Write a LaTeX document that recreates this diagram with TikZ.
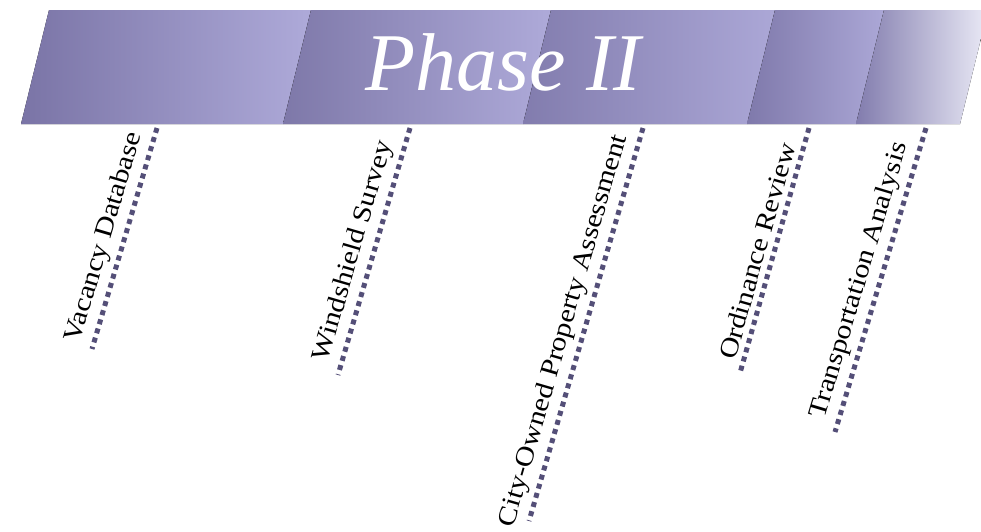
\documentclass[tikz,border=0pt]{standalone}
\usepackage{fontspec}
\usepackage{tkz-euclide}
\setmainfont{Liberation Serif}
\newfontfamily\taskfont{Liberation Serif}[FakeStretch=1.15]
\definecolor{bandL}{RGB}{122,116,166}
\definecolor{bandR}{RGB}{174,170,217}
\definecolor{bandM}{RGB}{161,156,212}
\definecolor{bandEnd}{RGB}{234,234,246}
\definecolor{dotPurple}{RGB}{84,79,120}
\tikzset{
  band/.style={left color=bandL, right color=bandR},
  taskline/.style={line width=5pt, color=dotPurple, dash pattern=on 5pt off 4.5pt},
  tasklbl/.style={sloped, above=4pt, pos=.48, font=\taskfont\fontsize{26}{28}\selectfont}
}
\begin{document}
\begin{tikzpicture}[x=1pt,y=-1pt]
\useasboundingbox (0,0) rectangle (981,531);
\tkzDefPoints{49/10/A, 311/10/B, 551/10/C, 775/10/D, 884/10/E, 988/10/F}
\tkzDefPoints{21/124/a, 283/124/b, 523/124/c, 747/124/d, 856/124/e, 960/124/f}
\tkzFillPolygon[band](A,B,b,a)
\tkzFillPolygon[left color=bandL!97!white, right color=bandR](B,C,c,b)
\tkzFillPolygon[left color=bandL!85!bandR, right color=bandR!95!bandL](C,D,d,c)
\tkzFillPolygon[left color=bandL!90!bandR, right color=bandR!95!bandL](D,E,e,d)
\tkzFillPolygon[left color=bandL!85!bandR, middle color=bandM, right color=bandEnd](E,F,f,e)
\node[anchor=base, text=white, font=\itshape\fontsize{82}{90}\selectfont] (phase) at (503,90) {Phase II};
% task lines
\tkzDefPoints{157/128/T1, 410/128/T2, 643/128/T3, 809/128/T4, 926/128/T5}
\tkzDefPoints{92/349/B1, 338/375/B2, 529/521/B3, 740/373/B4, 835/432/B5}
\foreach \i in {1,...,5}
  \draw[taskline] (T\i) -- (B\i);
\path (B1) -- (T1) node[tasklbl] (vacancy) {Vacancy Database};
\path (B2) -- (T2) node[tasklbl] (survey) {Windshield Survey};
\path (B3) -- (T3) node[tasklbl, pos=.47] (property) {City-Owned Property Assessment};
\path (B4) -- (T4) node[tasklbl] (ordinance) {Ordinance Review};
\path (B5) -- (T5) node[tasklbl] (transport) {Transportation Analysis};
\end{tikzpicture}
\end{document}
